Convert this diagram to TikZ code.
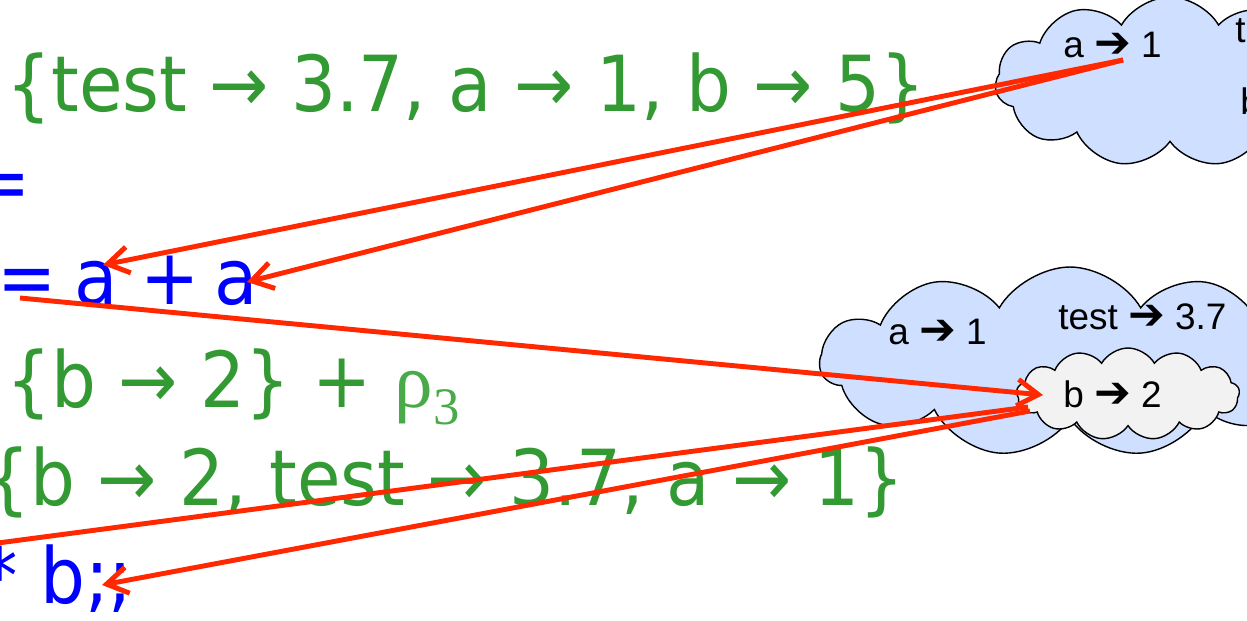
\documentclass[tikz,border=0pt]{standalone}
\usepackage{fontspec}
\setmainfont[FakeStretch=0.915]{DejaVu Sans}
\newfontfamily\cloudfont{Liberation Sans}
\newfontfamily\dingfont{DejaVu Sans}
\newfontfamily\greekfont{Liberation Serif}
\usetikzlibrary{shapes.symbols,arrows.meta}
\definecolor{codegreen}{RGB}{51,153,51}
\definecolor{rhogreen}{RGB}{72,170,72}
\definecolor{codeblue}{RGB}{0,0,255}
\definecolor{ptrred}{RGB}{255,40,0}
\definecolor{envblue}{RGB}{207,223,255}
\definecolor{envgray}{RGB}{242,242,242}
\newcommand{\hto}{{\dingfont\bfseries\fontsize{25}{26}\selectfont ➔}}
\begin{document}
\begin{tikzpicture}[x=0.02cm,y=-0.02cm,
  code/.style={anchor=base west,inner sep=0,font=\fontsize{44}{50}\selectfont},
  val/.style={code,text=codegreen},
  expr/.style={code,text=codeblue},
  env/.style={cloud,cloud puffs=11,cloud puff arc=120,cloud ignores aspect,
    draw=black,line width=0.8pt,fill=envblue,inner sep=0},
  binding/.style={anchor=base west,inner sep=0,font=\cloudfont\fontsize{21}{24}\selectfont},
  ptr/.style={draw=ptrred,line width=2.8pt,-{Straight Barb[length=12pt,width=15pt]}}]
\useasboundingbox (0,0) rectangle (1247,621);
\node[env,minimum width=7cm,minimum height=3.4cm] (envtop) at (1170,82) {};
\node[env,minimum width=10cm,minimum height=3.8cm] (envmid) at (1070,362) {};
\node[env,fill=envgray,cloud puffs=13,minimum width=4.46cm,minimum height=1.84cm] (envinner) at (1128,394) {};
\node[binding] (topa) at (1063,58) {a \hto\ 1};
\node[binding] (toptest) at (1235,43) {test \hto\ 3.7};
\node[binding] (topb) at (1240,115) {b \hto\ 5};
\node[binding] (mida) at (888,345) {a \hto\ 1};
\node[binding] (midtest) at (1058,330) {test \hto\ 3.7};
\node[binding] (innerb) at (1063,407) {b \hto\ 2};
\node[val] (rhoone) at (6,112) {\{test → 3.7, a → 1, b → 5\}};
\node[expr,anchor=base east] (eqtwo) at (31,210) {=};
\node[expr] (eqthree) at (-3,305) {=};
\node[expr] (aone) at (74,305) {a};
\node[expr] (plus) at (140,305) {+};
\node[expr] (atwo) at (214,305) {a};
\node[val] (rhofour) at (6,407) {\{b → 2\} + {\color{rhogreen}\greekfont ρ\raisebox{-10pt}{\fontsize{30}{30}\selectfont 3}}};
\node[val] (rhofive) at (-15,505) {\{b → 2, test → 3.7, a → 1\}};
\node[expr] (lastline) at (-18,603) {* b;;};
\coordinate (fromtopa) at (1123,60);
\coordinate (toaone) at (103,265);
\coordinate (toatwo) at (247,282);
\coordinate (fromeq) at (20,298);
\coordinate (tob) at (1043,395);
\coordinate (fromb) at (1028,407);
\coordinate (frombtwo) at (1030,411);
\coordinate (offleft) at (-40,548);
\coordinate (tosemi) at (102,585);
\draw[ptr] (fromtopa) -- (toaone);
\draw[ptr] (fromtopa) -- (toatwo);
\draw[ptr] (fromeq) -- (tob);
\draw[ptr] (fromb) -- (offleft);
\draw[ptr] (frombtwo) -- (tosemi);
\end{tikzpicture}
\end{document}
